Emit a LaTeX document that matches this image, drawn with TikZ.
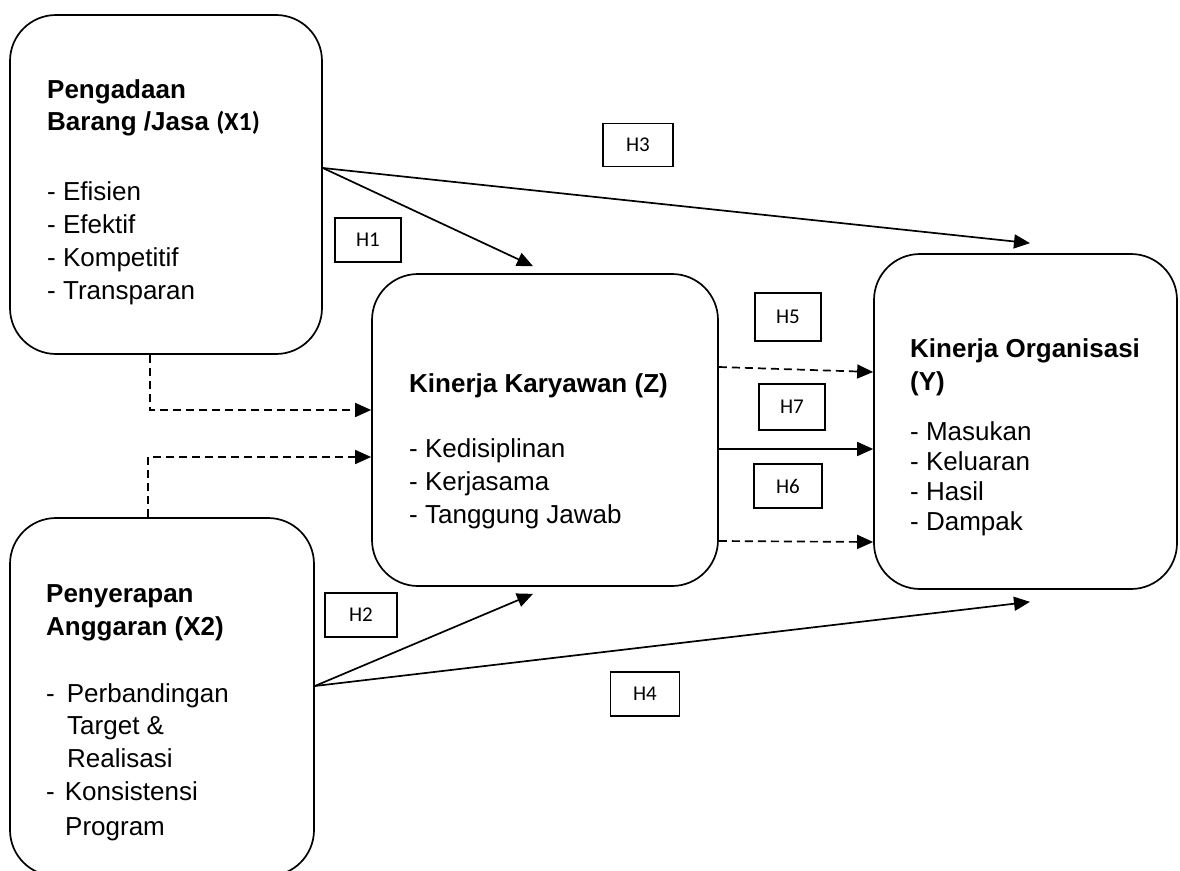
\documentclass[tikz,border=0pt]{standalone}
\usepackage{fontspec}
\setmainfont{Liberation Sans}
\newfontfamily\labelfont{Carlito}
\usetikzlibrary{arrows.meta}

\begin{document}
\begin{tikzpicture}[
  x = 1pt, y = -1pt,
  var/.style  = {draw, line width=1.7pt, rounded corners=46pt, inner sep=0pt},
  hyp/.style  = {draw, line width=1.5pt, inner sep=0pt,
                 font=\labelfont\fontsize{21}{24}\selectfont},
  head/.style = {anchor=base west, inner sep=0pt,
                 font=\bfseries\fontsize{26}{30}\selectfont},
  what/.style = {anchor=base west, inner sep=0pt,
                 font=\fontsize{26}{30}\selectfont},
  link/.style = {line width=1.7pt, -{Triangle[length=16pt, width=14pt]}},
  weak/.style = {link, dash pattern=on 8pt off 5pt},
]

\useasboundingbox (0, 0) rectangle (1180, 870);

% variable boxes
\node[var, minimum width=312pt, minimum height=339pt] (x1) at (166, 184.5) {};
\node[var, minimum width=304pt, minimum height=358pt] (x2) at (162, 697) {};
\node[var, minimum width=346pt, minimum height=312pt] (z)  at (545, 430) {};
\node[var, minimum width=303pt, minimum height=335pt] (y)  at (1025.5, 421.5) {};

% X1
\node[head] (x1t1) at (47, 98)  {Pengadaan};
\node[head] (x1t2) at (47, 130) {Barang /Jasa {\labelfont(X1)}};
\foreach \y/\txt [count=\i] in {200/Efisien, 233/Efektif, 266/Kompetitif, 299/Transparan}
  \node[what] (x1i\i) at (47, \y) {- \txt};

% X2
\node[head] (x2t1) at (46, 602) {Penyerapan};
\node[head] (x2t2) at (46, 635) {Anggaran (X2)};
\node[what] (x2i1) at (46, 702) {-\hspace{12pt}Perbandingan};
\node[what] (x2i2) at (67, 734) {Target \&};
\node[what] (x2i3) at (67, 767) {Realisasi};
\node[what] (x2i4) at (46, 800) {-\hspace{10pt}Konsistensi};
\node[what] (x2i5) at (65, 835) {Program};

% Z
\node[head] (zt) at (409, 392) {Kinerja Karyawan (Z)};
\foreach \y/\txt [count=\i] in {457/Kedisiplinan, 490/Kerjasama, 523/Tanggung Jawab}
  \node[what] (zi\i) at (409, \y) {- \txt};

% Y
\node[head] (yt1) at (910, 357) {Kinerja Organisasi};
\node[head] (yt2) at (910, 390) {(Y)};
\foreach \y/\txt [count=\i] in {440/Masukan, 470/Keluaran, 500/Hasil, 530/Dampak}
  \node[what] (yi\i) at (910, \y) {- \txt};

% hypotheses
\foreach \n/\x/\y/\w/\h in {H1/368/240/66/44, H3/638/145/70/43, H5/788/317/66/48,
                            H7/792/407/66/46, H6/788/486/68/44, H2/361/615/72/44,
                            H4/645/694/69/44}
  \node[hyp, minimum width=\w pt, minimum height=\h pt] (\n) at (\x, \y) {\n};

% paths
\coordinate (x1out) at ([yshift=16.5pt]x1.east);
\coordinate (x2out) at ([yshift=11pt]x2.east);

\draw[link] (x1out) -- ([xshift=-12pt, yshift=7pt]z.north);
\draw[link] (x1out) -- ([xshift=4.5pt, yshift=10pt]y.north);
\draw[link] (x2out) -- ([xshift=-12pt, yshift=-7pt]z.south);
\draw[link] (x2out) -- ([xshift=4.5pt, yshift=-12pt]y.south);

\draw[weak] ([yshift=63pt]z.east)   -- ([yshift=49.5pt]y.west);
\draw[link] ([yshift=-19pt]z.east)  -- ([yshift=-27.5pt]y.west);
\draw[weak] ([yshift=-111pt]z.east) -- ([yshift=-120.5pt]y.west);

\draw[weak] ([xshift=-16pt]x1.south) |- ([yshift=20pt]z.west);
\draw[weak] ([xshift=-14pt]x2.north) |- ([yshift=-27pt]z.west);

\end{tikzpicture}
\end{document}
